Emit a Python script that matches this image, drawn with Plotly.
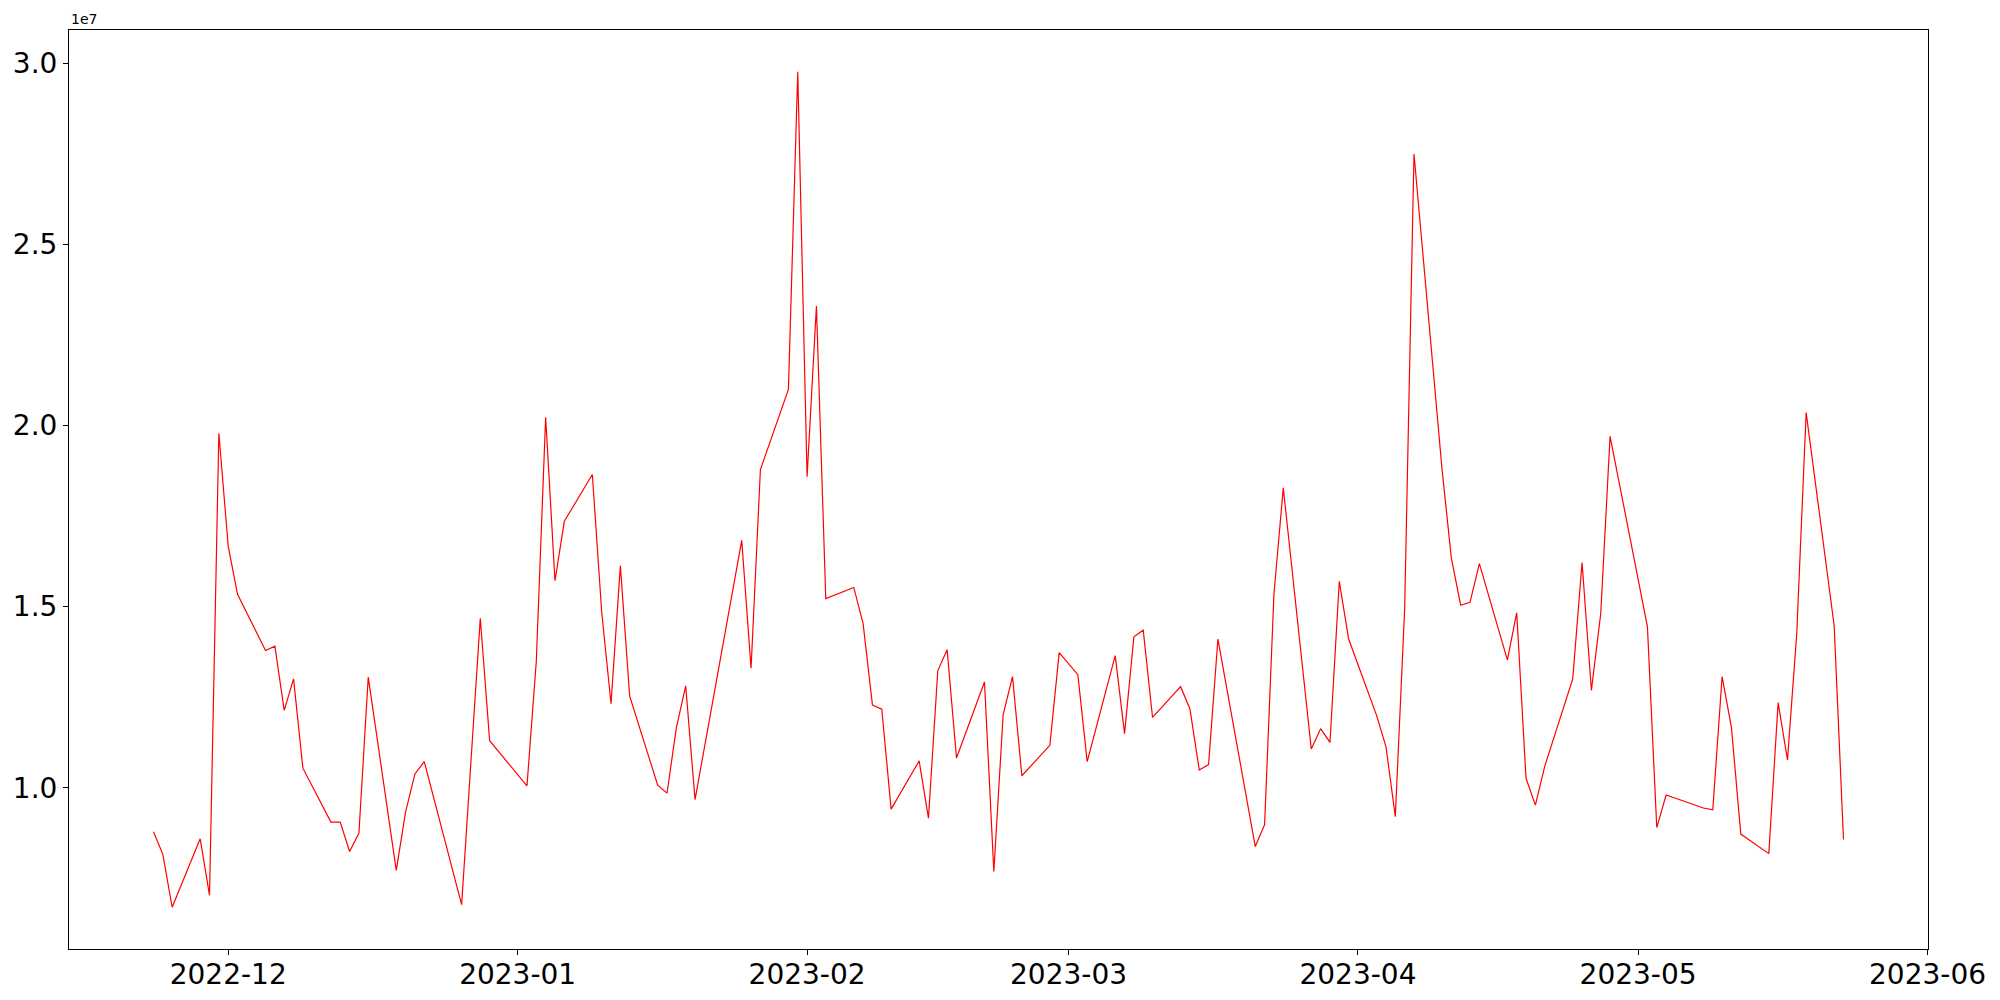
import pandas as pd
import plotly.graph_objects as go

dates = [
    "2022-11-23", "2022-11-24", "2022-11-25", "2022-11-28", "2022-11-29", "2022-11-30",
    "2022-12-01", "2022-12-02", "2022-12-05", "2022-12-06", "2022-12-07", "2022-12-08",
    "2022-12-09", "2022-12-12", "2022-12-13", "2022-12-14", "2022-12-15", "2022-12-16",
    "2022-12-19", "2022-12-20", "2022-12-21", "2022-12-22", "2022-12-26", "2022-12-28",
    "2022-12-29", "2023-01-02", "2023-01-03", "2023-01-04", "2023-01-05", "2023-01-06",
    "2023-01-09", "2023-01-10", "2023-01-11", "2023-01-12", "2023-01-13", "2023-01-16",
    "2023-01-17", "2023-01-18", "2023-01-19", "2023-01-20", "2023-01-25", "2023-01-26",
    "2023-01-27", "2023-01-30", "2023-01-31", "2023-02-01", "2023-02-02", "2023-02-03",
    "2023-02-06", "2023-02-07", "2023-02-08", "2023-02-09", "2023-02-10", "2023-02-13",
    "2023-02-14", "2023-02-15", "2023-02-16", "2023-02-17", "2023-02-20", "2023-02-21",
    "2023-02-22", "2023-02-23", "2023-02-24", "2023-02-27", "2023-02-28", "2023-03-02",
    "2023-03-03", "2023-03-06", "2023-03-07", "2023-03-08", "2023-03-09", "2023-03-10",
    "2023-03-13", "2023-03-14", "2023-03-15", "2023-03-16", "2023-03-17", "2023-03-21",
    "2023-03-22", "2023-03-23", "2023-03-24", "2023-03-27", "2023-03-28", "2023-03-29",
    "2023-03-30", "2023-03-31", "2023-04-03", "2023-04-04", "2023-04-05", "2023-04-06",
    "2023-04-07", "2023-04-10", "2023-04-11", "2023-04-12", "2023-04-13", "2023-04-14",
    "2023-04-17", "2023-04-18", "2023-04-19", "2023-04-20", "2023-04-21", "2023-04-24",
    "2023-04-25", "2023-04-26", "2023-04-27", "2023-04-28", "2023-05-02", "2023-05-03",
    "2023-05-04", "2023-05-08", "2023-05-09", "2023-05-10", "2023-05-11", "2023-05-12",
    "2023-05-15", "2023-05-16", "2023-05-17", "2023-05-18", "2023-05-19", "2023-05-22",
    "2023-05-23",
]

# values in units of 1e7
values_1e7 = [
    0.8785, 0.816, 0.670, 0.859, 0.703, 1.979,
    1.667, 1.534, 1.379, 1.391, 1.2135, 1.3005,
    1.054, 0.905, 0.905, 0.824, 0.874, 1.3055,
    0.772, 0.933, 1.038, 1.072, 0.677, 1.468,
    1.130, 1.005, 1.350, 2.023, 1.5715, 1.7357,
    1.865, 1.486, 1.232, 1.6125, 1.253, 1.007,
    0.985, 1.166, 1.281, 0.967, 1.683, 1.330,
    1.8785, 2.100, 2.977, 1.859, 2.330, 1.522,
    1.553, 1.453, 1.228, 1.217, 0.941, 1.074,
    0.916, 1.3235, 1.381, 1.082, 1.292, 0.7685,
    1.202, 1.307, 1.033, 1.117, 1.373, 1.312,
    1.072, 1.3646, 1.1495, 1.417, 1.435, 1.194,
    1.279, 1.218, 1.049, 1.064, 1.4105, 0.8375,
    0.898, 1.535, 1.828, 1.107, 1.163, 1.125,
    1.570, 1.4105, 1.199, 1.113, 0.920, 1.494,
    2.750, 1.880, 1.634, 1.504, 1.512, 1.619,
    1.353, 1.483, 1.026, 0.952, 1.059, 1.3005,
    1.622, 1.269, 1.481, 1.9705, 1.445, 0.890,
    0.980, 0.944, 0.939, 1.307, 1.166, 0.872,
    0.818, 1.235, 1.077, 1.4286, 2.036, 1.448,
    0.857,
]
SCALE = 1e7

x_tick_vals = ["2022-12-01", "2023-01-01", "2023-02-01", "2023-03-01",
               "2023-04-01", "2023-05-01", "2023-06-01"]
x_tick_text = ["2022-12", "2023-01", "2023-02", "2023-03", "2023-04", "2023-05", "2023-06"]
y_tick_vals = [1.0, 1.5, 2.0, 2.5, 3.0]
y_tick_text = ["1.0", "1.5", "2.0", "2.5", "3.0"]

x = pd.to_datetime(dates)
y = [v * SCALE for v in values_1e7]

span = x.max() - x.min()
x_range = [x.min() - 0.05 * span, x.max() + 0.05 * span]
y_span = max(y) - min(y)
y_range = [min(y) - 0.05 * y_span, max(y) + 0.05 * y_span]

FONT = "DejaVu Sans"

fig = go.Figure()
fig.add_trace(go.Scatter(x=x, y=y, mode="lines",
                         line=dict(color="#ff0000", width=1.2),
                         showlegend=False, hoverinfo="skip"))

axis_common = dict(
    showline=True, mirror=True, linecolor="black", linewidth=1.1,
    ticks="outside", ticklen=5, tickwidth=1.1, tickcolor="black",
    showgrid=False, zeroline=False, automargin=False,
    tickfont=dict(family=FONT, size=28, color="black"),
)

fig.update_layout(
    width=2000, height=1000, autosize=False,
    margin=dict(l=61, r=80, t=22, b=59, pad=0),
    paper_bgcolor="white", plot_bgcolor="white",
    xaxis=dict(type="date", range=x_range,
               tickvals=pd.to_datetime(x_tick_vals), ticktext=x_tick_text,
               ticklabelstandoff=-5,
               **axis_common),
    yaxis=dict(range=y_range,
               tickvals=[v * SCALE for v in y_tick_vals], ticktext=y_tick_text,
               **axis_common),
    annotations=[dict(text="1e7", xref="paper", yref="paper", x=0, y=1,
                      xanchor="left", yanchor="bottom", showarrow=False,
                      font=dict(family=FONT, size=14, color="black"), yshift=1)],
)

fig.write_html("out.html")
